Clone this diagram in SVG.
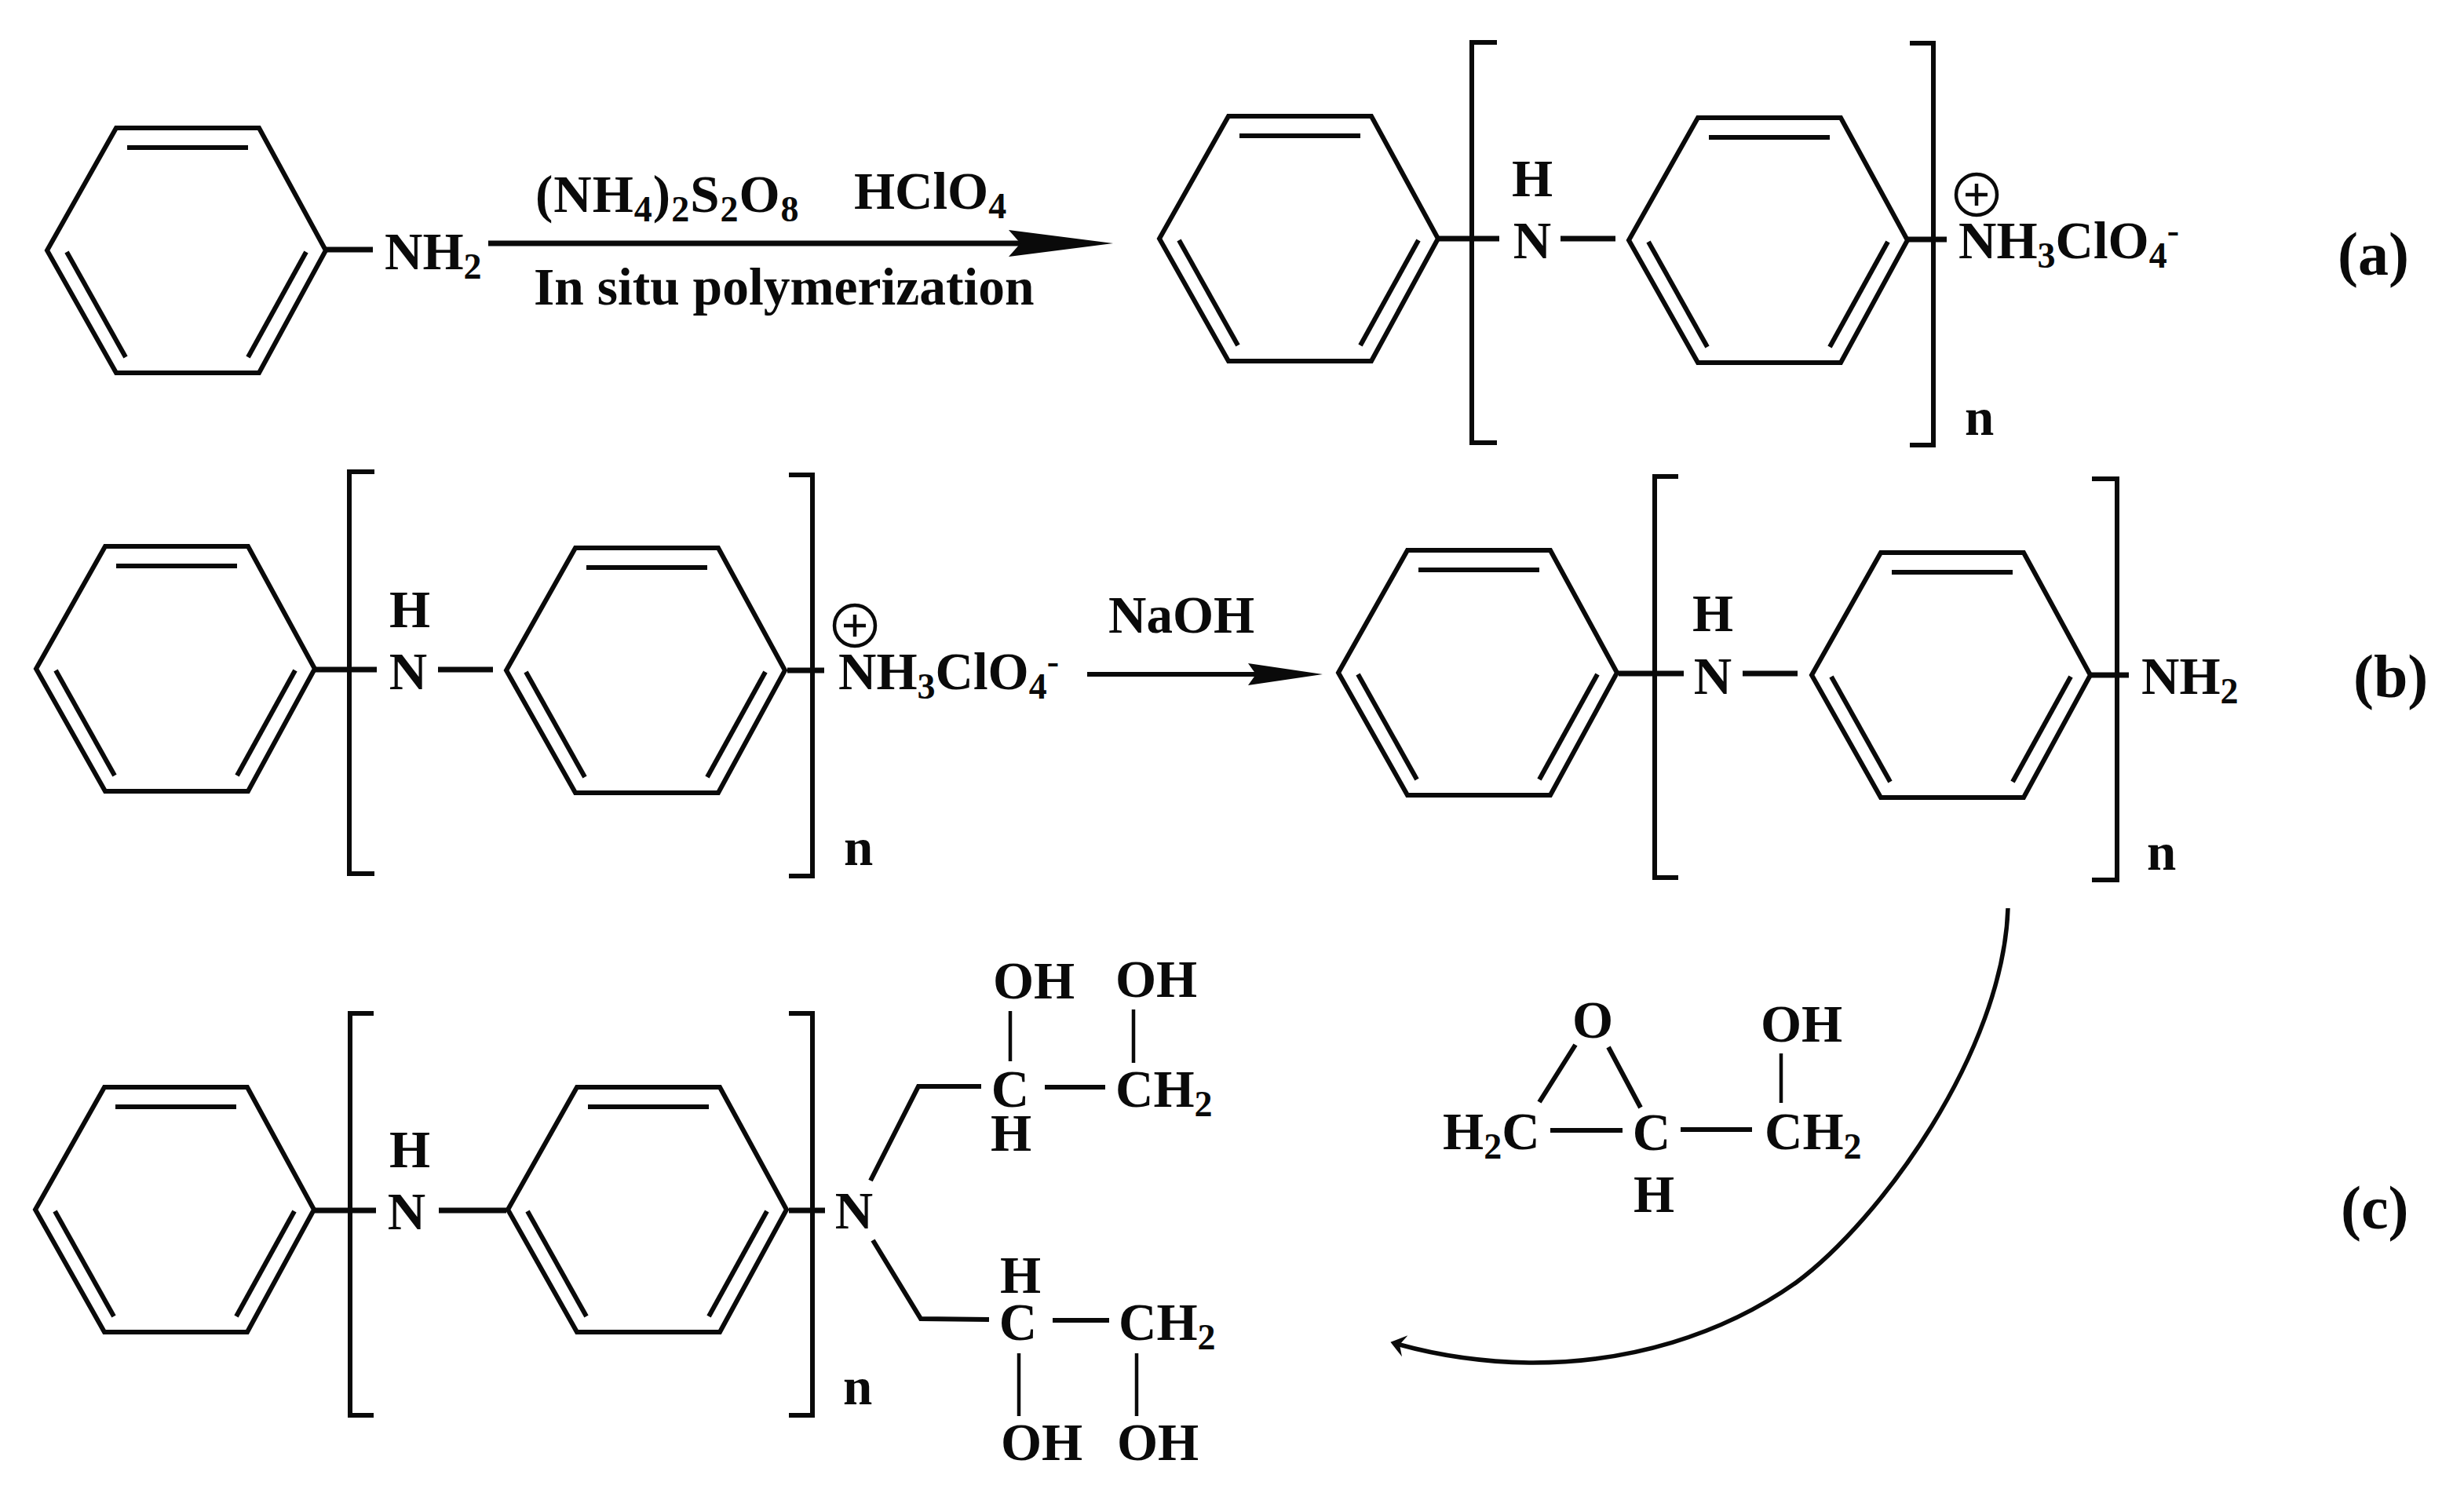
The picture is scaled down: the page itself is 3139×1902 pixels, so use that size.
<svg xmlns="http://www.w3.org/2000/svg" width="3139" height="1902" viewBox="0 0 3139 1902">
<style>
text{font-family:"Liberation Serif","Times New Roman",serif;font-weight:700;font-size:67px;fill:#0a0a0a}
.c{text-anchor:middle}
.lab{font-size:78px}
.s{font-size:46px}
.ln{fill:none;stroke:#0a0a0a;stroke-width:6;stroke-linejoin:miter}
.bond{fill:none;stroke:#0a0a0a;stroke-width:7}
.thin{fill:none;stroke:#0a0a0a;stroke-width:4.5}
</style>
<defs>
<g id="ring" class="ln">
<path d="M0,0 L88,-156 L270,-156 L355,0 L270,156 L88,156 Z"/>
<path d="M102,-131 H256"/>
<path d="M330,2 L256,136"/>
<path d="M25,2 L100,136"/>
</g>
<marker id="headA" markerUnits="userSpaceOnUse" markerWidth="134" markerHeight="36" refX="15" refY="18" orient="auto"><path d="M133,18 L0,1 L15,18 L0,35 Z" fill="#0a0a0a"/></marker>
<marker id="headB" markerUnits="userSpaceOnUse" markerWidth="96" markerHeight="30" refX="10" refY="15" orient="auto"><path d="M95,15 L0,1 L10,15 L0,29 Z" fill="#0a0a0a"/></marker>
<marker id="headC" markerUnits="userSpaceOnUse" markerWidth="20" markerHeight="30" refX="7" refY="15" orient="auto"><path d="M19,15 L0,1 L7,15 L0,29 Z" fill="#0a0a0a"/></marker>
</defs>

<g id="connectors">
<path class="bond" d="M415,318 H475"/>
<path d="M622,310 H1300" fill="none" stroke="#0a0a0a" stroke-width="7" marker-end="url(#headA)"/>
<path class="bond" d="M1832,304 H1910 M1988,304 H2058 M2430,305 H2480"/>
<path class="bond" d="M401,853 H480 M558,853 H628 M1003,854 H1050"/>
<path d="M1385,859 H1600" fill="none" stroke="#0a0a0a" stroke-width="6" marker-end="url(#headB)"/>
<path class="bond" d="M2062,858 H2145 M2220,858 H2290 M2662,860 H2712"/>
<path d="M2558,1157 C2552,1340 2395,1555 2288,1634 C2195,1700 2075,1737 1948,1736 C1885,1735 1830,1726 1783,1713" fill="none" stroke="#0a0a0a" stroke-width="5.5" marker-end="url(#headC)"/>
<path class="bond" d="M401,1542 H479 M559,1542 H645 M1005,1542 H1051"/>
<path class="ln" d="M1109,1504 L1170,1384 H1250 M1331,1385 H1408"/>
<path class="ln" d="M1112,1580 L1173,1680 L1260,1681 M1341,1682 H1413"/>
<path class="thin" d="M1287,1288 V1352 M1444,1286 V1354 M1298,1724 V1804 M1448,1724 V1804"/>
<path class="ln" d="M1961,1404 L2007,1331 M2049,1334 L2090,1411 M1975,1440 H2067 M2141,1439 H2232"/>
<path class="thin" d="M2269,1342 V1405"/>
</g>

<g id="aniline">
<use href="#ring" x="60" y="319"/>
<text x="490" y="343">NH<tspan class="s" dy="12">2</tspan></text>
</g>

<g id="reagents-a">
<text x="682" y="270" letter-spacing="1">(NH<tspan class="s" dy="12">4</tspan><tspan dy="-12">)</tspan><tspan class="s" dy="12">2</tspan><tspan dy="-12">S</tspan><tspan class="s" dy="12">2</tspan><tspan dy="-12">O</tspan><tspan class="s" dy="12">8</tspan></text>
<text x="1088" y="266">HClO<tspan class="s" dy="12">4</tspan></text>
<text x="680" y="388" style="font-size:67.5px">In situ polymerization</text>
</g>

<g id="polymer-a">
<use href="#ring" x="1477" y="304"/>
<use href="#ring" x="2075" y="306"/>
<path class="ln" d="M1907,54 H1875 V564 H1907 M2433,55 H2463 V567 H2433"/>
<text class="c" x="1952" y="250">H</text>
<text class="c" x="1952" y="329">N</text>
<text x="2495" y="329">NH<tspan class="s" dy="12">3</tspan><tspan dy="-12">ClO</tspan><tspan class="s" dy="12">4</tspan><tspan class="s" dy="-32">-</tspan></text>
<g class="thin"><circle cx="2518" cy="248" r="26"/><path d="M2504,248 H2532 M2518,234 V262"/></g>
<text x="2503" y="554">n</text>
</g>
<text id="label-a" class="lab" x="2978" y="350">(a)</text>

<g id="polymer-b">
<use href="#ring" x="46" y="852"/>
<use href="#ring" x="645" y="854"/>
<path class="ln" d="M477,601 H445 V1113 H477 M1005,605 H1035 V1116 H1005"/>
<text class="c" x="522" y="799">H</text>
<text class="c" x="520" y="878">N</text>
<text x="1068" y="878">NH<tspan class="s" dy="12">3</tspan><tspan dy="-12">ClO</tspan><tspan class="s" dy="12">4</tspan><tspan class="s" dy="-32">-</tspan></text>
<g class="thin"><circle cx="1089" cy="797" r="26"/><path d="M1075,797 H1103 M1089,783 V811"/></g>
<text x="1075" y="1102">n</text>
</g>

<text id="reagent-b" x="1412" y="806">NaOH</text>

<g id="polymer-b-product">
<use href="#ring" x="1705" y="857"/>
<use href="#ring" x="2308" y="860"/>
<path class="ln" d="M2138,607 H2108 V1118 H2138 M2665,610 H2697 V1121 H2665"/>
<text class="c" x="2182" y="804">H</text>
<text class="c" x="2182" y="884">N</text>
<text x="2728" y="884">NH<tspan class="s" dy="12">2</tspan></text>
<text x="2735" y="1108">n</text>
</g>
<text id="label-b" class="lab" x="2998" y="888">(b)</text>

<g id="polymer-c">
<use href="#ring" x="45" y="1541"/>
<use href="#ring" x="647" y="1541"/>
<path class="ln" d="M476,1291 H446 V1803 H476 M1005,1291 H1035 V1803 H1005"/>
<text class="c" x="522" y="1487">H</text>
<text class="c" x="518" y="1566">N</text>
<text class="c" x="1088" y="1565">N</text>
<text x="1074" y="1789">n</text>
</g>

<g id="side-chain-upper">
<text x="1265" y="1272">OH</text>
<text x="1421" y="1270">OH</text>
<text class="c" x="1287" y="1410">C</text>
<text x="1421" y="1410">CH<tspan class="s" dy="12">2</tspan></text>
<text class="c" x="1288" y="1466">H</text>
</g>

<g id="side-chain-lower">
<text class="c" x="1300" y="1647">H</text>
<text class="c" x="1297" y="1707">C</text>
<text x="1425" y="1707">CH<tspan class="s" dy="12">2</tspan></text>
<text x="1275" y="1860">OH</text>
<text x="1423" y="1860">OH</text>
</g>

<g id="glycidol">
<text class="c" x="2029" y="1322">O</text>
<text x="2243" y="1327">OH</text>
<text x="1838" y="1464">H<tspan class="s" dy="12">2</tspan><tspan dy="-12">C</tspan></text>
<text class="c" x="2104" y="1465">C</text>
<text x="2248" y="1464">CH<tspan class="s" dy="12">2</tspan></text>
<text class="c" x="2107" y="1544">H</text>
</g>
<text id="label-c" class="lab" x="2982" y="1565">(c)</text>
</svg>
